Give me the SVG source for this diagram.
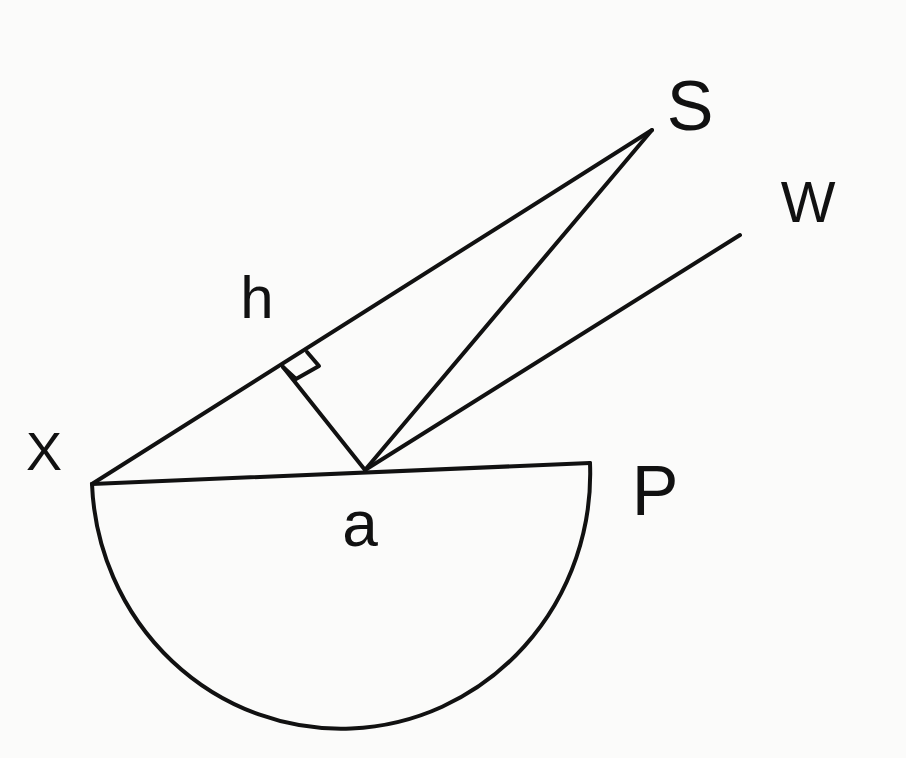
<svg xmlns="http://www.w3.org/2000/svg" width="906" height="758" viewBox="0 0 906 758">
<style>
.ln{stroke:#111;stroke-width:4;fill:none;stroke-linecap:round;stroke-linejoin:round}
.lb{font-family:"Liberation Sans","DejaVu Sans",sans-serif;fill:#111;text-anchor:middle}
</style>
<rect width="906" height="758" fill="#fbfbfa"/>
<g id="connectors">
<path class="ln" d="M92 484 L652 130"/>
<path class="ln" d="M92 484 L590 463"/>
<path class="ln" d="M365 470 L652 130"/>
<path class="ln" d="M365 470 L740 235"/>
<path class="ln" d="M365 470 L283 367"/>
<path class="ln" d="M283 367 L296 379 L319 366 L307 352"/>
<path class="ln" d="M92 484 A249 255 0 0 0 590 463"/>
</g>
<g id="node-x"><text class="lb" x="44" y="470" font-size="54">X</text></g>
<g id="node-h"><text class="lb" x="257" y="318" font-size="60">h</text></g>
<g id="node-s"><text class="lb" x="690" y="130" font-size="70">S</text></g>
<g id="node-w"><text class="lb" x="808" y="222" font-size="58">W</text></g>
<g id="node-p"><text class="lb" x="655" y="515" font-size="70">P</text></g>
<g id="node-a"><text class="lb" x="360" y="546" font-size="64">a</text></g>
</svg>
